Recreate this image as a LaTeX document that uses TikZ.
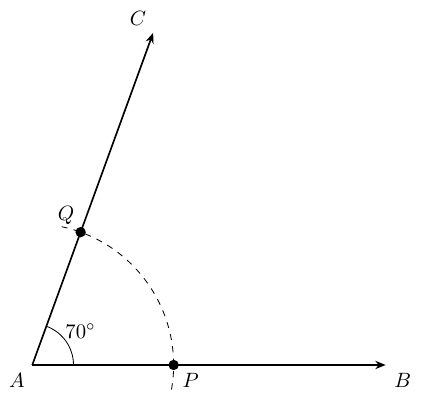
\documentclass[tikz,border=0pt]{standalone}
\usetikzlibrary{arrows.meta}
\begin{document}
\begin{tikzpicture}[
  ray/.style={thick,-{Stealth[length=5pt,width=4pt]}},
  pt/.style={circle,fill=black,inner sep=0pt,minimum size=5pt},
  lbl/.style={inner sep=0pt}
]
\useasboundingbox (-0.548,-0.679) rectangle (6.685,6.197);
\coordinate (A) at (0,0);
\coordinate (B) at (6,0);
\coordinate (C) at (70:6);
\node[pt] (P) at (0:2.4) {};
\node[pt] (Q) at (70:2.4) {};
\draw[ray] (A) -- (B);
\draw[ray] (A) -- (C);
\draw[dashed,thin] (-10:2.4) arc[start angle=-10,end angle=78,radius=2.4];
\draw[thin] (0.7,0) arc[start angle=0,end angle=70,radius=0.7];
\node[lbl] (lA) at (-0.26,-0.27) {$A$};
\node[lbl] (lB) at (6.29,-0.27) {$B$};
\node[lbl] (lC) at (1.795,5.89) {$C$};
\node[lbl] (lP) at (2.69,-0.27) {$P$};
\node[lbl] (lQ) at (0.572,2.547) {$Q$};
\node[lbl] (ang) at (35:1.0) {$70^\circ$};
\end{tikzpicture}
\end{document}
